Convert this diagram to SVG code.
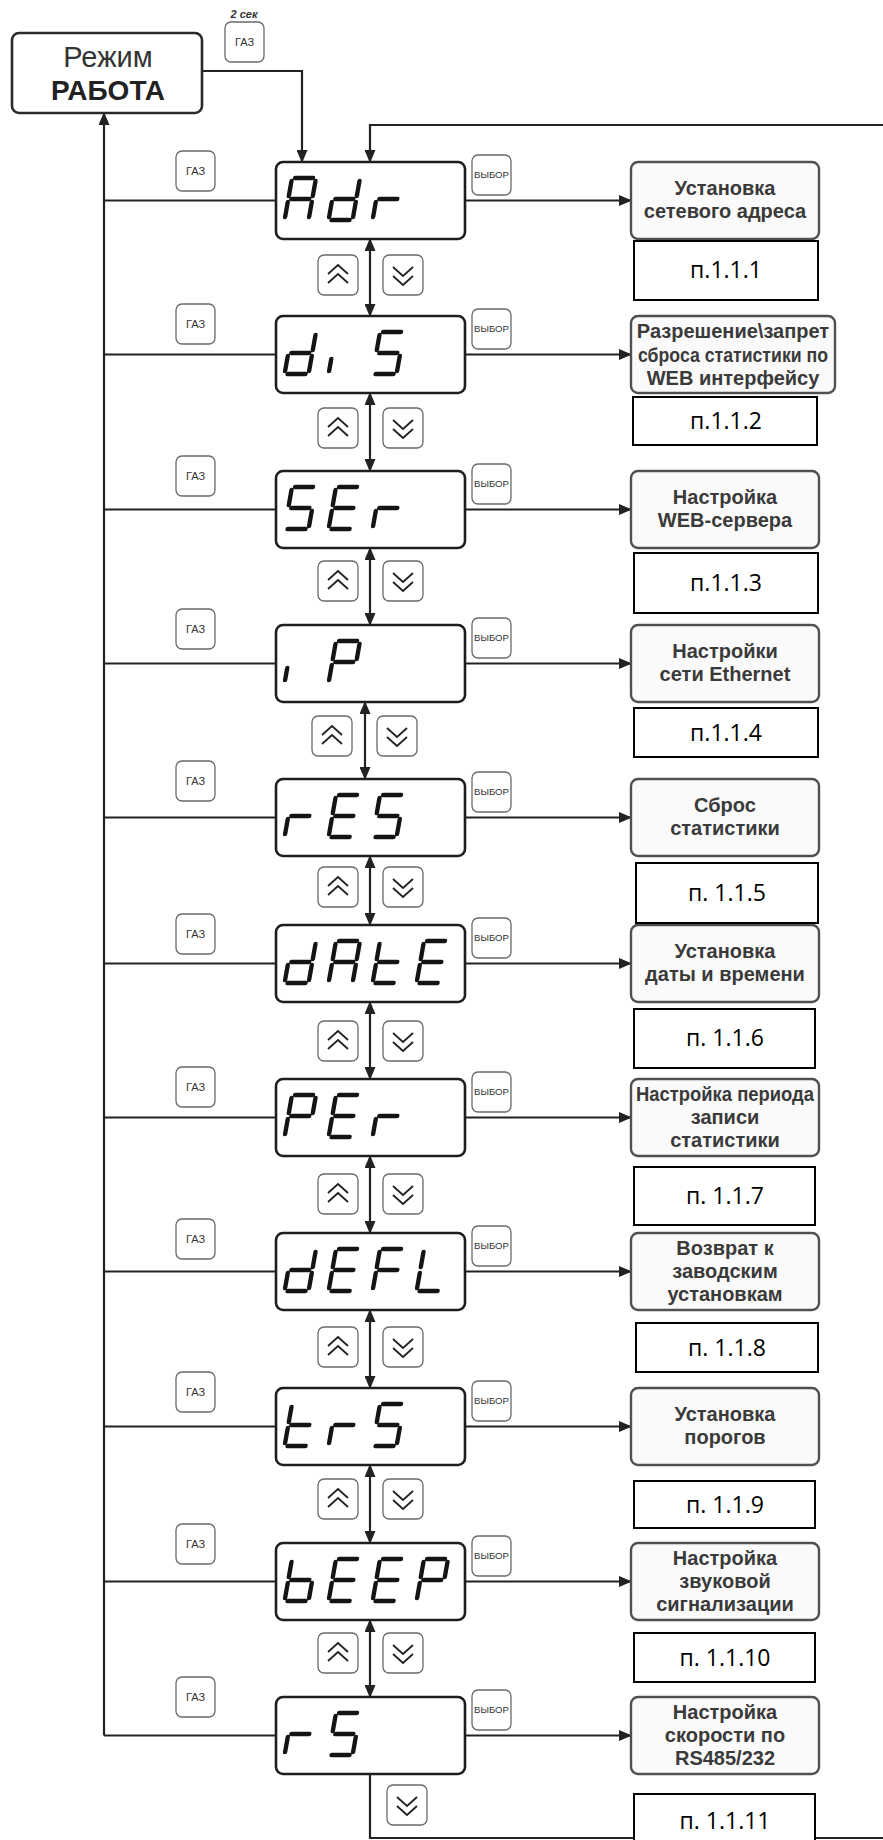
<svg xmlns="http://www.w3.org/2000/svg" xmlns:xlink="http://www.w3.org/1999/xlink" width="883" height="1840" viewBox="0 0 883 1840">
<style>
.ln{fill:none;stroke:#222;stroke-width:2.2}
.ar{marker-end:url(#ah)}
.dbl{marker-start:url(#ah);marker-end:url(#ah)}
.disp{fill:#fff;stroke:#1e1e1e;stroke-width:2.6}
.rb{fill:#fafafa;stroke:#505050;stroke-width:2.4}
.pb{fill:#fff;stroke:#000;stroke-width:2}
.btn{fill:#fff;stroke:#6a6a6a;stroke-width:1.3}
.chev{fill:none;stroke:#222;stroke-width:1.8}
.lcd{fill:none;stroke:#141414;stroke-width:4.4;stroke-linecap:round}
.rt{font-family:"Liberation Sans",Arial,sans-serif;font-weight:bold;font-size:20px;fill:#3a3a3a;text-anchor:middle}
.pt{font-family:"Open Sans","Liberation Sans",sans-serif;font-size:23px;fill:#000;text-anchor:middle}
.gaz{font-family:"Liberation Sans",Arial,sans-serif;font-size:11px;fill:#333;text-anchor:middle}
.vyb{font-family:"Liberation Sans",Arial,sans-serif;font-size:9.5px;fill:#333;text-anchor:middle}
</style>
<defs>
<marker id="ah" markerUnits="userSpaceOnUse" markerWidth="13" markerHeight="11" refX="12" refY="5.5" orient="auto-start-reverse" viewBox="0 0 13 11">
<path d="M0 0L13 5.5L0 11z" fill="#222"/>
</marker>
<path id="sa" d="M3 0H21"/>
<path id="sb" d="M24 3V18"/>
<path id="sc" d="M24 24V39"/>
<path id="sd" d="M3 42H21"/>
<path id="se" d="M0 24V39"/>
<path id="sf" d="M0 3V18"/>
<path id="sg" d="M3 21H21"/>
<path id="si" d="M0 27V39"/>
<g id="cA"><use href="#sa"/><use href="#sb"/><use href="#sc"/><use href="#se"/><use href="#sf"/><use href="#sg"/></g>
<g id="cd"><use href="#sb"/><use href="#sc"/><use href="#sd"/><use href="#se"/><use href="#sg"/></g>
<g id="cr"><use href="#se"/><use href="#sg"/></g>
<g id="ci"><use href="#si"/></g>
<g id="cS"><use href="#sa"/><use href="#sf"/><use href="#sg"/><use href="#sc"/><use href="#sd"/></g>
<g id="cE"><use href="#sa"/><use href="#sf"/><use href="#sg"/><use href="#se"/><use href="#sd"/></g>
<g id="cP"><use href="#sa"/><use href="#sb"/><use href="#sf"/><use href="#sg"/><use href="#se"/></g>
<g id="ct"><use href="#sf"/><use href="#sg"/><use href="#se"/><use href="#sd"/></g>
<g id="cF"><use href="#sa"/><use href="#sf"/><use href="#sg"/><use href="#se"/></g>
<g id="cL"><use href="#sf"/><use href="#se"/><use href="#sd"/></g>
<g id="cb"><use href="#sf"/><use href="#se"/><use href="#sd"/><use href="#sc"/><use href="#sg"/></g>
<g id="bup"><rect class="btn" x="0" y="0" width="40" height="40" rx="6"/><polyline class="chev" points="10,19 20,10 30,19"/><polyline class="chev" points="10,28 20,19 30,28"/></g>
<g id="bdn"><rect class="btn" x="0" y="0" width="40" height="40" rx="6"/><polyline class="chev" points="10,12 20,21 30,12"/><polyline class="chev" points="10,21 20,30 30,21"/></g>
<g id="bgaz"><rect class="btn" x="0" y="0" width="39" height="40" rx="6"/><text class="gaz" x="19.5" y="24">ГАЗ</text></g>
<g id="bvyb"><rect class="btn" x="0" y="0" width="39" height="40" rx="6"/><text class="vyb" x="19.5" y="23" textLength="35" lengthAdjust="spacingAndGlyphs">ВЫБОР</text></g>
</defs>
<rect width="883" height="1840" fill="#fff"/>

<g id="connectors">
<path class="ln ar" d="M104 1735.5V113"/>
<path class="ln ar" d="M200 71H302V162"/>
<path class="ln ar" d="M883 125H370V162"/>
<path class="ln" d="M370 1774V1838H883"/>
<path class="ln" d="M104 200.5H276M104 354.5H276M104 509.5H276M104 663.5H276M104 817.5H276M104 963.5H276M104 1117.5H276M104 1271.5H276M104 1426.5H276M104 1581.5H276M104 1735.5H276"/>
<path class="ln ar" d="M465 200.5H631"/>
<path class="ln ar" d="M465 354.5H631"/>
<path class="ln ar" d="M465 509.5H631"/>
<path class="ln ar" d="M465 663.5H631"/>
<path class="ln ar" d="M465 817.5H631"/>
<path class="ln ar" d="M465 963.5H631"/>
<path class="ln ar" d="M465 1117.5H631"/>
<path class="ln ar" d="M465 1271.5H631"/>
<path class="ln ar" d="M465 1426.5H631"/>
<path class="ln ar" d="M465 1581.5H631"/>
<path class="ln ar" d="M465 1735.5H631"/>
<path class="ln dbl" d="M370 239V316"/>
<path class="ln dbl" d="M370 393V471"/>
<path class="ln dbl" d="M370 548V625"/>
<path class="ln dbl" d="M365 702V779"/>
<path class="ln dbl" d="M370 856V925"/>
<path class="ln dbl" d="M370 1002V1079"/>
<path class="ln dbl" d="M370 1156V1233"/>
<path class="ln dbl" d="M370 1310V1388"/>
<path class="ln dbl" d="M370 1465V1543"/>
<path class="ln dbl" d="M370 1620V1697"/>
</g>

<g id="buttons">
<text x="244" y="18" font-family="Liberation Sans,Arial,sans-serif" font-size="11" font-weight="bold" font-style="italic" fill="#333" text-anchor="middle">2 сек</text>
<use href="#bgaz" x="225" y="22"/>
<use href="#bgaz" x="176" y="151"/>
<use href="#bgaz" x="176" y="304"/>
<use href="#bgaz" x="176" y="456"/>
<use href="#bgaz" x="176" y="609"/>
<use href="#bgaz" x="176" y="761"/>
<use href="#bgaz" x="176" y="914"/>
<use href="#bgaz" x="176" y="1067"/>
<use href="#bgaz" x="176" y="1219"/>
<use href="#bgaz" x="176" y="1372"/>
<use href="#bgaz" x="176" y="1524"/>
<use href="#bgaz" x="176" y="1677"/>
<use href="#bvyb" x="472" y="155"/>
<use href="#bvyb" x="472" y="309"/>
<use href="#bvyb" x="472" y="464"/>
<use href="#bvyb" x="472" y="618"/>
<use href="#bvyb" x="472" y="772"/>
<use href="#bvyb" x="472" y="918"/>
<use href="#bvyb" x="472" y="1072"/>
<use href="#bvyb" x="472" y="1226"/>
<use href="#bvyb" x="472" y="1381"/>
<use href="#bvyb" x="472" y="1536"/>
<use href="#bvyb" x="472" y="1690"/>
<use href="#bup" x="318" y="255"/><use href="#bdn" x="383" y="255"/>
<use href="#bup" x="318" y="408"/><use href="#bdn" x="383" y="408"/>
<use href="#bup" x="318" y="561"/><use href="#bdn" x="383" y="561"/>
<use href="#bup" x="312" y="716"/><use href="#bdn" x="377" y="716"/>
<use href="#bup" x="318" y="867"/><use href="#bdn" x="383" y="867"/>
<use href="#bup" x="318" y="1021"/><use href="#bdn" x="383" y="1021"/>
<use href="#bup" x="318" y="1174"/><use href="#bdn" x="383" y="1174"/>
<use href="#bup" x="318" y="1327"/><use href="#bdn" x="383" y="1327"/>
<use href="#bup" x="318" y="1479"/><use href="#bdn" x="383" y="1479"/>
<use href="#bup" x="318" y="1633"/><use href="#bdn" x="383" y="1633"/>
<use href="#bdn" x="387" y="1785"/>
</g>

<g id="mode">
<rect x="12" y="33" width="190" height="80" rx="7" fill="#fff" stroke="#2a2a2a" stroke-width="2.6"/>
<text x="108" y="67" font-family="Liberation Sans,Arial,sans-serif" font-size="29" fill="#333" text-anchor="middle">Режим</text>
<text x="108" y="100" font-family="Liberation Sans,Arial,sans-serif" font-size="28" font-weight="bold" fill="#222" text-anchor="middle">РАБОТА</text>
</g>

<g id="d-adr"><rect class="disp" x="276" y="162" width="189" height="77" rx="7"/><g class="lcd"><use href="#cA" transform="translate(292,178) skewX(-10)"/><use href="#cd" transform="translate(336,178) skewX(-10)"/><use href="#cr" transform="translate(380,178) skewX(-10)"/></g></g>
<g id="d-dis"><rect class="disp" x="276" y="316" width="189" height="77" rx="7"/><g class="lcd"><use href="#cd" transform="translate(292,332) skewX(-10)"/><use href="#ci" transform="translate(336,332) skewX(-10)"/><use href="#cS" transform="translate(380,332) skewX(-10)"/></g></g>
<g id="d-ser"><rect class="disp" x="276" y="471" width="189" height="77" rx="7"/><g class="lcd"><use href="#cS" transform="translate(292,487) skewX(-10)"/><use href="#cE" transform="translate(336,487) skewX(-10)"/><use href="#cr" transform="translate(380,487) skewX(-10)"/></g></g>
<g id="d-ip"><rect class="disp" x="276" y="625" width="189" height="77" rx="7"/><g class="lcd"><use href="#ci" transform="translate(292,641) skewX(-10)"/><use href="#cP" transform="translate(336,641) skewX(-10)"/></g></g>
<g id="d-res"><rect class="disp" x="276" y="779" width="189" height="77" rx="7"/><g class="lcd"><use href="#cr" transform="translate(292,795) skewX(-10)"/><use href="#cE" transform="translate(336,795) skewX(-10)"/><use href="#cS" transform="translate(380,795) skewX(-10)"/></g></g>
<g id="d-date"><rect class="disp" x="276" y="925" width="189" height="77" rx="7"/><g class="lcd"><use href="#cd" transform="translate(292,941) skewX(-10)"/><use href="#cA" transform="translate(336,941) skewX(-10)"/><use href="#ct" transform="translate(380,941) skewX(-10)"/><use href="#cE" transform="translate(424,941) skewX(-10)"/></g></g>
<g id="d-per"><rect class="disp" x="276" y="1079" width="189" height="77" rx="7"/><g class="lcd"><use href="#cP" transform="translate(292,1095) skewX(-10)"/><use href="#cE" transform="translate(336,1095) skewX(-10)"/><use href="#cr" transform="translate(380,1095) skewX(-10)"/></g></g>
<g id="d-defl"><rect class="disp" x="276" y="1233" width="189" height="77" rx="7"/><g class="lcd"><use href="#cd" transform="translate(292,1249) skewX(-10)"/><use href="#cE" transform="translate(336,1249) skewX(-10)"/><use href="#cF" transform="translate(380,1249) skewX(-10)"/><use href="#cL" transform="translate(424,1249) skewX(-10)"/></g></g>
<g id="d-trs"><rect class="disp" x="276" y="1388" width="189" height="77" rx="7"/><g class="lcd"><use href="#ct" transform="translate(292,1404) skewX(-10)"/><use href="#cr" transform="translate(336,1404) skewX(-10)"/><use href="#cS" transform="translate(380,1404) skewX(-10)"/></g></g>
<g id="d-beep"><rect class="disp" x="276" y="1543" width="189" height="77" rx="7"/><g class="lcd"><use href="#cb" transform="translate(292,1559) skewX(-10)"/><use href="#cE" transform="translate(336,1559) skewX(-10)"/><use href="#cE" transform="translate(380,1559) skewX(-10)"/><use href="#cP" transform="translate(424,1559) skewX(-10)"/></g></g>
<g id="d-rs"><rect class="disp" x="276" y="1697" width="189" height="77" rx="7"/><g class="lcd"><use href="#cr" transform="translate(292,1713) skewX(-10)"/><use href="#cS" transform="translate(336,1713) skewX(-10)"/></g></g>

<g id="r-adr"><rect class="rb" x="631" y="162" width="188" height="77" rx="7"/><text class="rt" x="725" y="195">Установка</text><text class="rt" x="725" y="218">сетевого адреса</text></g>
<g id="r-dis"><rect class="rb" x="631" y="316" width="204" height="77" rx="7"/><text class="rt" x="733" y="337.5" font-size="17.5">Разрешение\запрет</text><text class="rt" x="733" y="361.5" font-size="17.5" textLength="190" lengthAdjust="spacingAndGlyphs">сброса статистики по</text><text class="rt" x="733" y="385" font-size="17.5">WEB интерфейсу</text></g>
<g id="r-ser"><rect class="rb" x="631" y="471" width="188" height="77" rx="7"/><text class="rt" x="725" y="504">Настройка</text><text class="rt" x="725" y="527">WEB-сервера</text></g>
<g id="r-ip"><rect class="rb" x="631" y="625" width="188" height="77" rx="7"/><text class="rt" x="725" y="658">Настройки</text><text class="rt" x="725" y="681">сети Ethernet</text></g>
<g id="r-res"><rect class="rb" x="631" y="779" width="188" height="77" rx="7"/><text class="rt" x="725" y="812">Сброс</text><text class="rt" x="725" y="835">статистики</text></g>
<g id="r-date"><rect class="rb" x="631" y="925" width="188" height="77" rx="7"/><text class="rt" x="725" y="958">Установка</text><text class="rt" x="725" y="981">даты и времени</text></g>
<g id="r-per"><rect class="rb" x="631" y="1079" width="188" height="77" rx="7"/><text class="rt" x="725" y="1100.5" font-size="18" textLength="178" lengthAdjust="spacingAndGlyphs">Настройка периода</text><text class="rt" x="725" y="1123.5" font-size="18">записи</text><text class="rt" x="725" y="1146.5" font-size="18">статистики</text></g>
<g id="r-defl"><rect class="rb" x="631" y="1233" width="188" height="77" rx="7"/><text class="rt" x="725" y="1254.5">Возврат к</text><text class="rt" x="725" y="1277.5">заводским</text><text class="rt" x="725" y="1300.5">установкам</text></g>
<g id="r-trs"><rect class="rb" x="631" y="1388" width="188" height="77" rx="7"/><text class="rt" x="725" y="1421">Установка</text><text class="rt" x="725" y="1444">порогов</text></g>
<g id="r-beep"><rect class="rb" x="631" y="1543" width="188" height="77" rx="7"/><text class="rt" x="725" y="1564.5">Настройка</text><text class="rt" x="725" y="1587.5">звуковой</text><text class="rt" x="725" y="1610.5">сигнализации</text></g>
<g id="r-rs"><rect class="rb" x="631" y="1697" width="188" height="77" rx="7"/><text class="rt" x="725" y="1718.5">Настройка</text><text class="rt" x="725" y="1741.5">скорости по</text><text class="rt" x="725" y="1764.5">RS485/232</text></g>

<g id="p1"><rect class="pb" x="634" y="241" width="184" height="59"/><text class="pt" x="726" y="278">п.1.1.1</text></g>
<g id="p2"><rect class="pb" x="633" y="397" width="184" height="48"/><text class="pt" x="726" y="429">п.1.1.2</text></g>
<g id="p3"><rect class="pb" x="634" y="553" width="184" height="60"/><text class="pt" x="726" y="591">п.1.1.3</text></g>
<g id="p4"><rect class="pb" x="634" y="708" width="184" height="49"/><text class="pt" x="726" y="741">п.1.1.4</text></g>
<g id="p5"><rect class="pb" x="636" y="863" width="182" height="60"/><text class="pt" x="727" y="901">п. 1.1.5</text></g>
<g id="p6"><rect class="pb" x="634" y="1009" width="181" height="59"/><text class="pt" x="725" y="1046">п. 1.1.6</text></g>
<g id="p7"><rect class="pb" x="634" y="1167" width="181" height="58"/><text class="pt" x="725" y="1204">п. 1.1.7</text></g>
<g id="p8"><rect class="pb" x="636" y="1323" width="182" height="49"/><text class="pt" x="727" y="1356">п. 1.1.8</text></g>
<g id="p9"><rect class="pb" x="634" y="1481" width="181" height="47"/><text class="pt" x="725" y="1513">п. 1.1.9</text></g>
<g id="p10"><rect class="pb" x="634" y="1633" width="181" height="49"/><text class="pt" x="725" y="1666">п. 1.1.10</text></g>
<g id="p11"><rect class="pb" x="634" y="1794" width="181" height="60"/><text class="pt" x="725" y="1829">п. 1.1.11</text></g>
</svg>
